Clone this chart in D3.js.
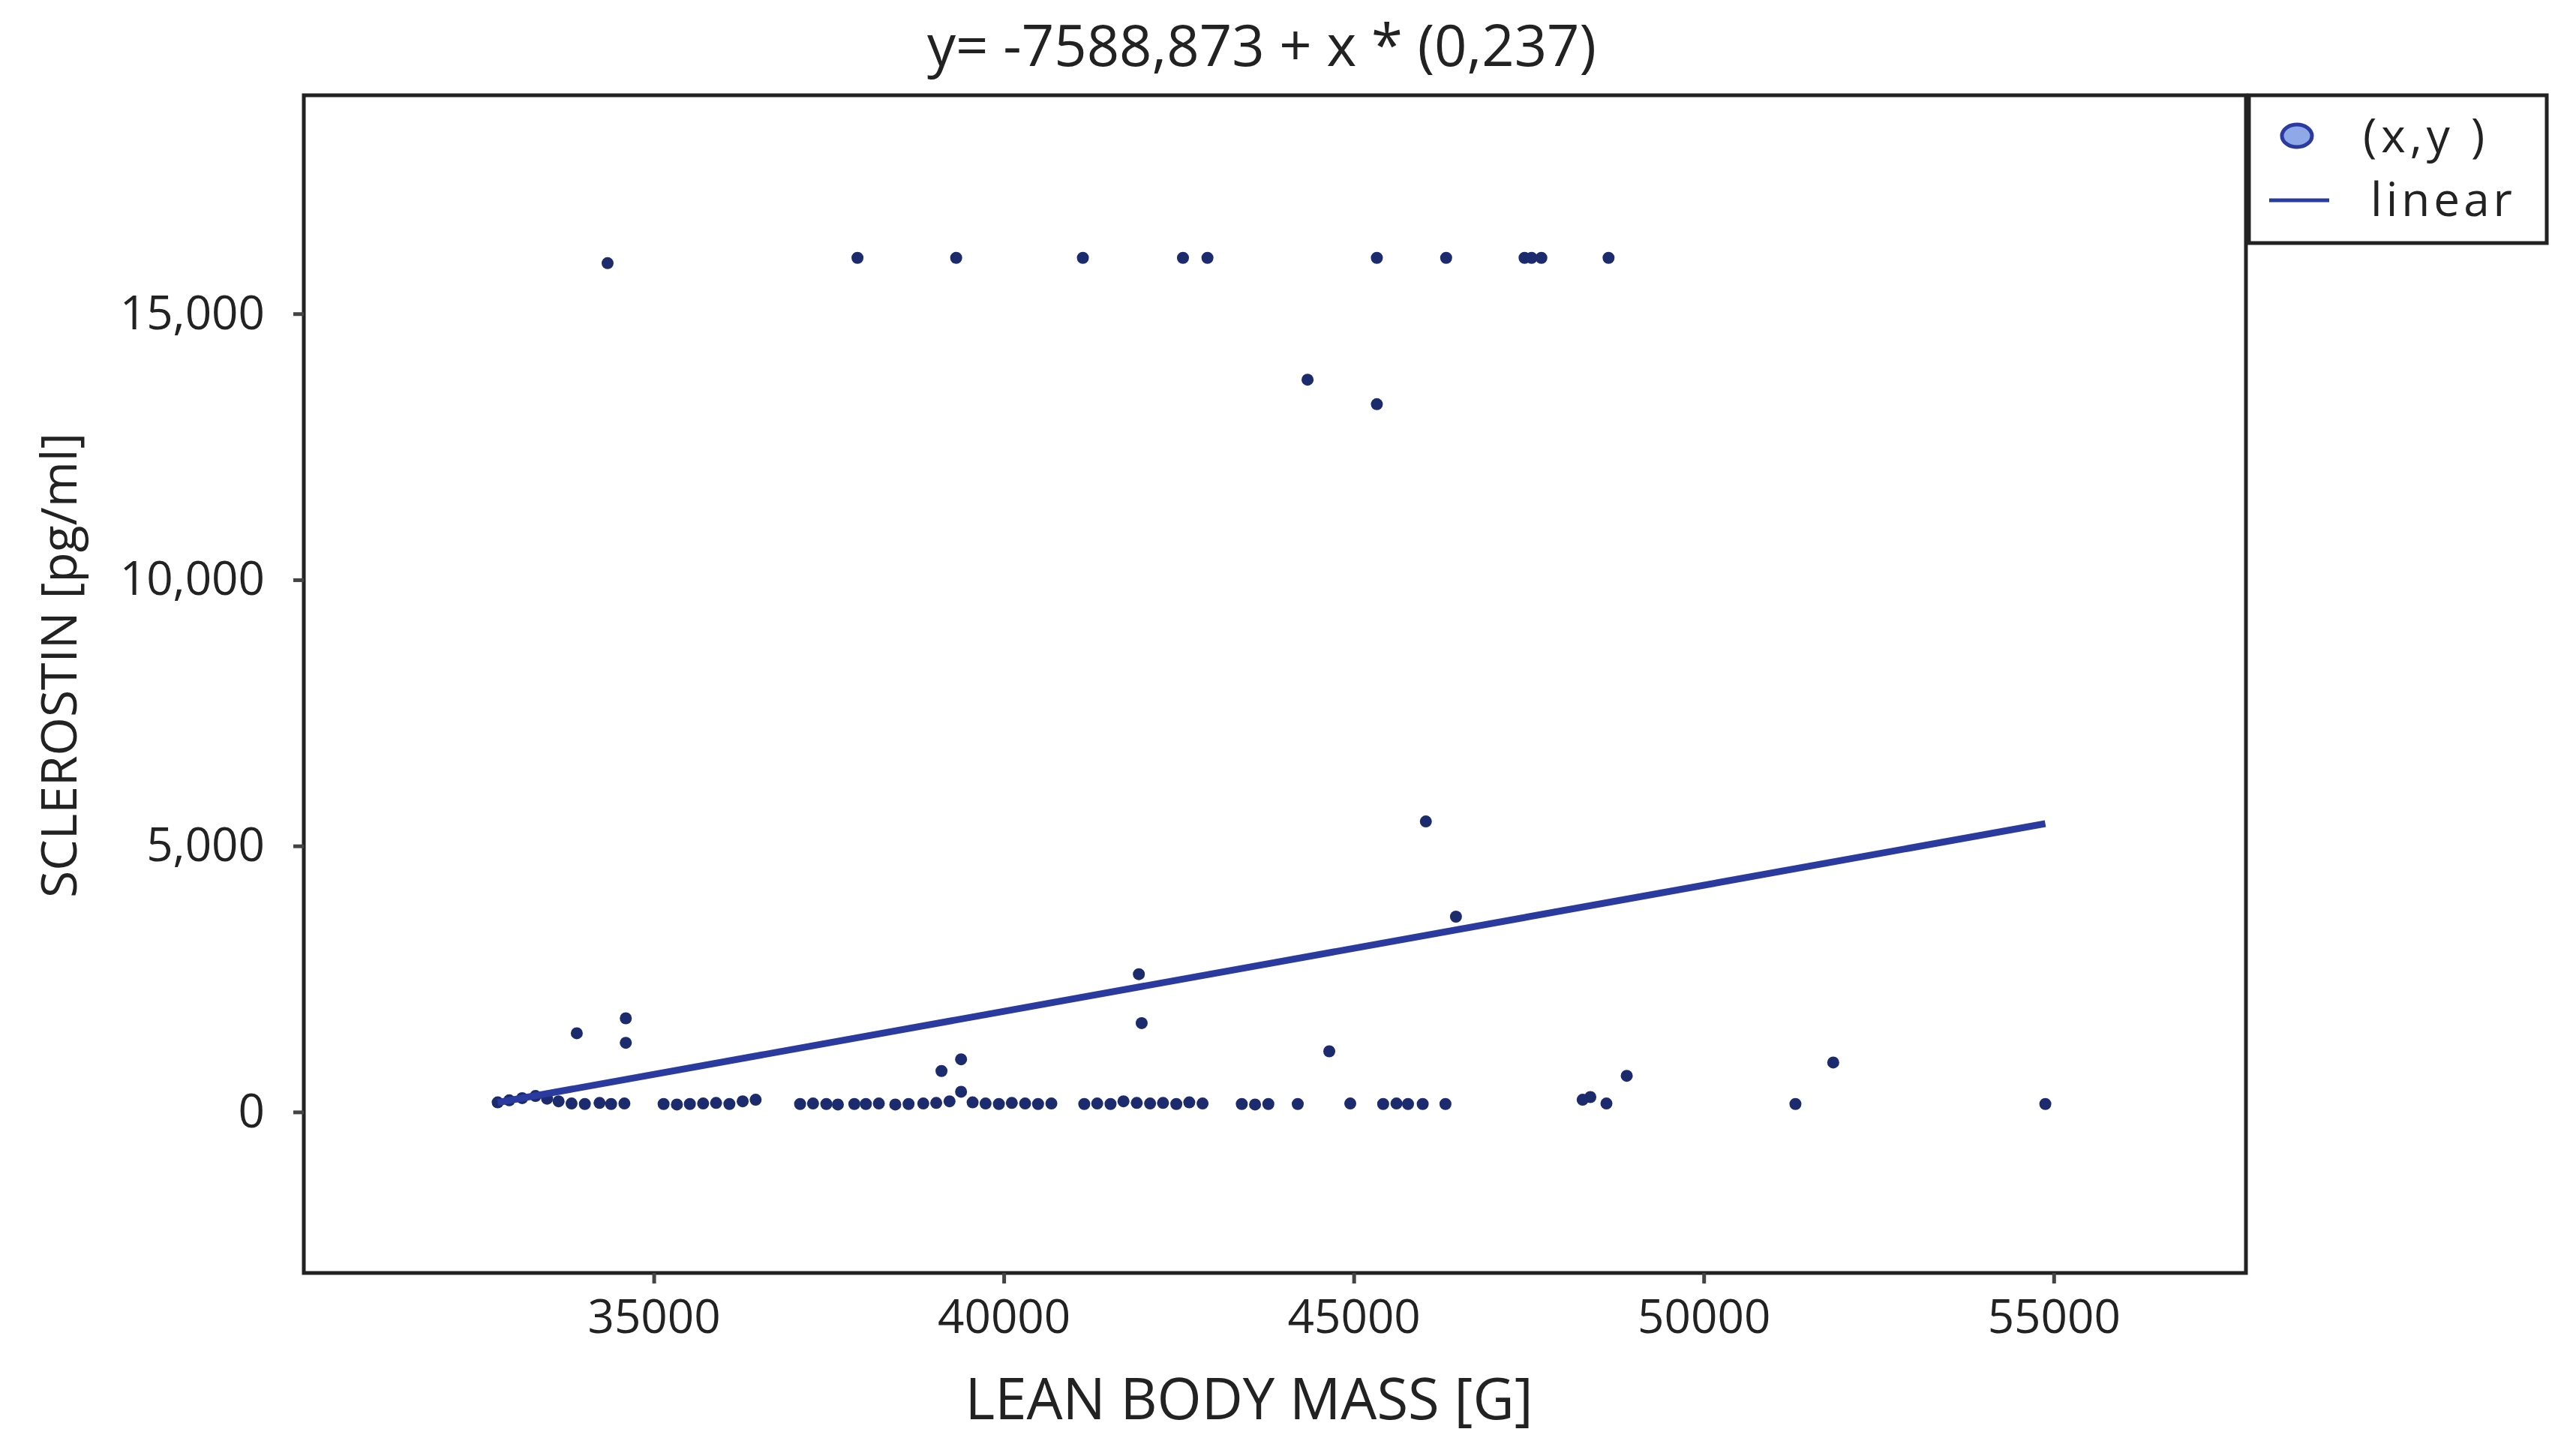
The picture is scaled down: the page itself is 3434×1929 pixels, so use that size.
<!DOCTYPE html>
<html lang="en">
<head>
<meta charset="UTF-8">
<title>Sclerostin vs lean body mass</title>
<script src="https://d3js.org/d3.v7.min.js"></script>
<style>
  body { margin: 0; background: #fff; }
  text { font-family: "Open Sans", "DejaVu Sans", sans-serif; fill: #222; }
</style>
</head>
<body>
<svg width="3434" height="1929"></svg>
<script>
// data
const leanMass = [34340, 37910, 39320, 41130, 42560, 42910, 45330, 46320, 47440, 47540, 47680, 48640,
  44340, 45330, 46030, 46460, 41930, 41970, 33900, 34600, 34600, 39110, 39390, 44650, 51850, 48900, 48380, 48270,
  32770, 32935, 33120, 33310, 33475, 33640, 33825, 34015, 34225, 34390, 34580, 35140, 35330, 35515, 35705,
  35890, 36080, 36270, 36455, 37090, 37275, 37465, 37630, 37865, 38030, 38215, 38450, 38640, 38850, 39035,
  39225, 39390, 39555, 39740, 39930, 40115, 40305, 40490, 40680, 41150, 41335, 41525, 41710, 41900, 42090,
  42275, 42465, 42650, 42840, 43400, 43590, 43780, 44200, 44950, 45420, 45610, 45775, 45985, 46310, 48610,
  51310, 54880];
const sclerostin = [15950, 16050, 16050, 16050, 16050, 16050, 16050, 16050, 16050, 16050, 16050, 16050,
  13760, 13300, 5460, 3670, 2590, 1670, 1480, 1760, 1300, 770, 990, 1140, 930, 680, 280, 230,
  180, 220, 260, 300, 250, 200, 160, 150, 170, 150, 160, 150, 140, 150, 160,
  170, 150, 200, 230, 150, 160, 150, 140, 150, 150, 160, 140, 150, 160, 170,
  200, 380, 180, 160, 150, 170, 160, 150, 160, 150, 160, 150, 200, 170, 160,
  170, 150, 180, 160, 150, 140, 150, 150, 160, 150, 160, 150, 150, 150, 160,
  150, 150];
const intercept = -7588.873, slope = 0.237;
const xTicks = [35000, 40000, 45000, 50000, 55000];
const yTicks = [0, 5000, 10000, 15000];

const svg = d3.select("svg");
const L = 405, T = 127, R = 2994, B = 1697;

const x = d3.scaleLinear().domain([30000, 57746]).range([L, R]);
const y = d3.scaleLinear().domain([-3025, 19105]).range([B, T]);

svg.append("rect")
  .attr("x", L).attr("y", T).attr("width", R - L).attr("height", B - T)
  .attr("fill", "none").attr("stroke", "#222").attr("stroke-width", 5);

const xAxis = svg.append("g").attr("transform", `translate(0,${B})`)
  .call(d3.axisBottom(x).tickValues(xTicks).tickFormat(d3.format("d")).tickSize(14).tickPadding(22));
const yAxis = svg.append("g").attr("transform", `translate(${L},0)`)
  .call(d3.axisLeft(y).tickValues(yTicks).tickFormat(d3.format(",")).tickSize(14).tickPadding(38));
[xAxis, yAxis].forEach(g => {
  g.select(".domain").remove();
  g.selectAll("line").attr("stroke", "#444").attr("stroke-width", 5);
  g.selectAll("text").style("font-size", "62px").attr("fill", "#222");
});

// points
svg.append("g").selectAll("circle")
  .data(leanMass.map((v, i) => [v, sclerostin[i]]))
  .join("circle")
  .attr("cx", d => x(d[0])).attr("cy", d => y(d[1]))
  .attr("r", 8).attr("fill", "#1c2a6e");

// regression line
const xs = d3.extent(leanMass);
svg.append("line")
  .attr("x1", x(xs[0])).attr("y1", y(intercept + slope * xs[0]))
  .attr("x2", x(xs[1])).attr("y2", y(intercept + slope * xs[1]))
  .attr("stroke", "#2a3a9e").attr("stroke-width", 9);

svg.append("text").attr("x", 1682).attr("y", 88).attr("text-anchor", "middle")
  .style("font-size", "76px").text("y= -7588,873 + x * (0,237)");
svg.append("text").attr("x", 1665).attr("y", 1892).attr("text-anchor", "middle")
  .style("font-size", "76px").text("LEAN BODY MASS [G]");
svg.append("text").attr("transform", "translate(102,887) rotate(-90)").attr("text-anchor", "middle")
  .style("font-size", "66px").text("SCLEROSTIN [pg/ml]");

// legend
const lg = svg.append("g");
lg.append("rect").attr("x", 2998).attr("y", 127).attr("width", 397).attr("height", 197)
  .attr("fill", "#fff").attr("stroke", "#222").attr("stroke-width", 5);
lg.append("ellipse").attr("cx", 3062).attr("cy", 181).attr("rx", 20).attr("ry", 15)
  .attr("fill", "#8fa8e8").attr("stroke", "#2a3a9e").attr("stroke-width", 5);
lg.append("text").attr("x", 3150).attr("y", 203).style("font-size", "62px")
  .style("letter-spacing", "6px").text("(x,y )");
lg.append("line").attr("x1", 3025).attr("x2", 3105).attr("y1", 267).attr("y2", 267)
  .attr("stroke", "#2a3a9e").attr("stroke-width", 5);
lg.append("text").attr("x", 3160).attr("y", 288).style("font-size", "62px")
  .style("letter-spacing", "5px").text("linear");
</script>
</body>
</html>
